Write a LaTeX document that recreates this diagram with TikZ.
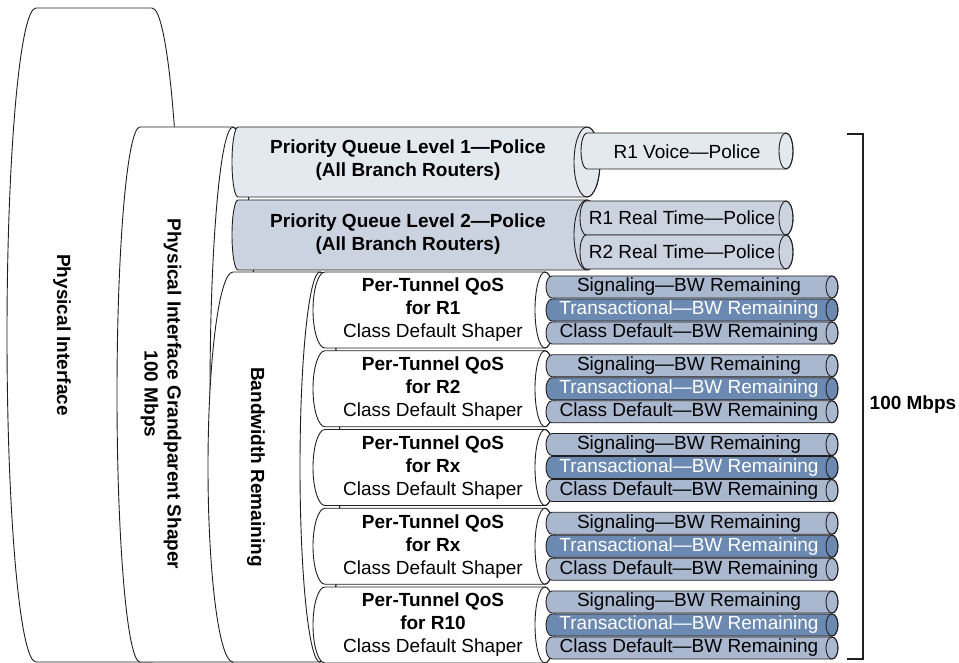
\documentclass[tikz,border=0pt]{standalone}
\usepackage{fontspec}
\setmainfont{Liberation Sans}

\definecolor{pqlight}{HTML}{E4E8EF}
\definecolor{pqdark}{HTML}{CCD3E0}
\definecolor{bwlight}{HTML}{AAB8CF}
\definecolor{bwdark}{HTML}{6C8AB1}
\definecolor{outline}{HTML}{231F20}
\newcommand\diagfont{\fontsize{19}{23}\selectfont}
% horizontal tube: [style]{back x}{front x}{top y}{bottom y}{back radius}{front radius}
\newcommand\qtube[7][]{%
	\pgfmathsetmacro\qtb{((#5)-(#4))/2}%
	\pgfmathsetmacro\qtc{((#4)+(#5))/2}%
	\filldraw[tubeline,#1] (#2,#4) -- (#3,#4) arc[start angle=-90, end angle=90, x radius=#7, y radius=\qtb] -- (#2,#5) arc[start angle=90, end angle=270, x radius=#6, y radius=\qtb] -- cycle;
	\draw[tubeline] (#3,\qtc) ellipse[x radius=#7, y radius=\qtb];
}

\begin{document}
\begin{tikzpicture}[
	x=1pt, y=-1pt,
	tubeline/.style={ draw=outline, line width=0.9pt },
	txt/.style={ inner sep=0pt, align=center, font=\diagfont },
	btxt/.style={ txt, font=\diagfont\bfseries },
	vlabel/.style={ btxt, rotate=-90 },
	bracket/.style={ draw=outline, line width=2pt }
]
\useasboundingbox (0,0) rectangle (959,663);

\filldraw[tubeline, fill=white] (36,8) -- (152,8) arc[start angle=-90, end angle=90, x radius=29, y radius=327] -- (36,662) arc[start angle=90, end angle=270, x radius=29, y radius=327] -- cycle;
\node at (62,335) (physlabel) [vlabel] {Physical Interface};

\qtube[fill=white]{140}{233}{127}{662}{23}{23}
\node at (161,394) (gplabel) [vlabel] {Physical Interface Grandparent Shaper\\100 Mbps};

\qtube[fill=white]{233}{320}{272}{662}{25}{20}
\node at (256,467) (bwlabel) [vlabel] {Bandwidth Remaining};

\qtube[fill=pqlight]{238}{587}{127}{197}{6}{13}
\node at (408,160) (pq1) [btxt] {Priority Queue Level 1---Police\\(All Branch Routers)};
\qtube[fill=pqdark]{238}{587}{200}{270}{6}{13}
\node at (408,234) (pq2) [btxt] {Priority Queue Level 2---Police\\(All Branch Routers)};

\qtube[fill=pqlight]{587}{786}{133}{169}{6}{7}
\node at (687,152) (r1voice) [txt] {R1 Voice---Police};
\qtube[fill=pqdark]{586}{786}{201}{235}{6}{7}
\node at (682,218) (r1rt) [txt] {R1 Real Time---Police};
\qtube[fill=pqdark]{586}{786}{235}{269}{6}{7}
\node at (682,252) (r2rt) [txt] {R2 Real Time---Police};

\foreach \i/\r in {1/R1,2/R2,3/Rx,4/Rx,5/R10} {
	\pgfmathsetmacro\yc{310+(\i-1)*78.75}
	\qtube[fill=white]{325}{545}{\yc-38}{\yc+38}{12}{10}
	\node at (433,\yc) (tun\i) [txt] {\textbf{Per-Tunnel QoS}\\\textbf{for \r}\\Class Default Shaper};
	\qtube[fill=bwlight]{552}{832}{\yc-34}{\yc-12}{6}{6}
	\node at (689,\yc-23) (sig\i) [txt] {Signaling---BW Remaining};
	\qtube[fill=bwdark]{552}{832}{\yc-11}{\yc+11}{6}{6}
	\node at (689,\yc) (trans\i) [txt, text=white] {Transactional---BW Remaining};
	\qtube[fill=bwlight]{552}{832}{\yc+12}{\yc+34}{6}{6}
	\node at (689,\yc+23) (cdef\i) [txt] {Class Default---BW Remaining};
}

\draw[bracket] (847,134) -- (863,134) -- (863,659) -- (847,659);
\node at (913,405) (total) [btxt] {100 Mbps};

\end{tikzpicture}
\end{document}
